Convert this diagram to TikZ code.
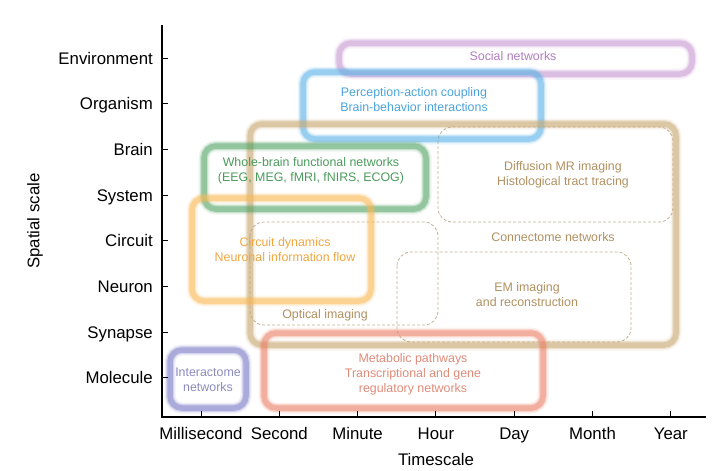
\documentclass[tikz,border=0pt]{standalone}
\usepackage{fontspec}
\setmainfont{Liberation Sans}
\usetikzlibrary{positioning}

\definecolor{socialc}{HTML}{C99AD2}
\definecolor{socialt}{HTML}{B07CC0}
\definecolor{percc}{HTML}{5EB2E6}
\definecolor{perct}{HTML}{4AA3DA}
\definecolor{connc}{HTML}{C8A872}
\definecolor{connt}{HTML}{B09060}
\definecolor{wholec}{HTML}{56A468}
\definecolor{wholet}{HTML}{4A9A5C}
\definecolor{circc}{HTML}{F8B955}
\definecolor{circt}{HTML}{F0A640}
\definecolor{interc}{HTML}{7C7CC6}
\definecolor{intert}{HTML}{8A8ABE}
\definecolor{metac}{HTML}{EA8068}
\definecolor{metat}{HTML}{E08A78}
\definecolor{dashc}{HTML}{C2B092}

% soft thick frame, drawn in several passes
\newcommand{\glowbox}[3]{%
	\foreach \w/\o in {11/0.12,8/0.25,5.5/0.45}{%
		\draw[draw=#1, line width=\w pt, opacity=\o, rounded corners=12pt] (#2) rectangle (#3);}}

\tikzset{
	axlab/.style={font=\fontsize{16.8}{18}\selectfont, inner sep=0pt},
	boxlab/.style={font=\fontsize{12.4}{15}\selectfont, align=center, inner sep=0pt},
	dashbox/.style={draw=dashc, line width=0.8pt, dash pattern=on 3pt off 2pt, rounded corners=14pt}
}

\begin{document}
\begin{tikzpicture}[x=1pt,y=-1pt]
		\useasboundingbox (0,0) rectangle (720,471);
		
		% Dashed method boxes
		\draw[dashbox] (438,127) rectangle (673,222);
		\draw[dashbox] (250,222) rectangle (438,325);
		\draw[dashbox] (397,252) rectangle (631,342);
		
		% Network boxes
		\glowbox{socialc}{339,43}{692,74}
		\glowbox{percc}{303,72}{541,139}
		\glowbox{connc}{250,124}{676,345}
		\glowbox{wholec}{204,146}{426,209}
		\glowbox{circc}{192,198}{371,301}
		\glowbox{interc}{170,350}{246,408}
		\glowbox{metac}{264,333}{543,408}
		
		% Box labels
		\node[boxlab, text=socialt] (social) at (513,56) {Social networks};
		\node[boxlab, text=perct] (perc) at (414,100) {Perception-action coupling\\Brain-behavior interactions};
		\node[boxlab, text=connt] (conn) at (553,237) {Connectome networks};
		\node[boxlab, text=connt] (diff) at (563,175) {Diffusion MR imaging\\Histological tract tracing};
		\node[boxlab, text=connt] (em) at (527,295) {EM imaging\\and reconstruction};
		\node[boxlab, text=connt] (optic) at (325,315) {Optical imaging};
		\node[boxlab, text=wholet] (whole) at (311,171) {Whole-brain functional networks\\(EEG, MEG, fMRI, fNIRS, ECOG)};
		\node[boxlab, text=circt] (circ) at (285,250) {Circuit dynamics\\Neuronal information flow};
		\node[boxlab, text=intert] (inter) at (208,380) {Interactome\\networks};
		\node[boxlab, text=metat] (meta) at (413,374) {Metabolic pathways\\Transcriptional and gene\\regulatory networks};
		
		% Axes
		\coordinate (top) at (162,25);
		\coordinate (origin) at (162,417);
		\coordinate (right) at (706,417);
		\draw[line width=1.3pt] (top) -- (origin) -- (right);
		
		% Ticks and tick labels
		\foreach \lab [count=\i from 0] in {Environment,Organism,Brain,System,Circuit,Neuron,Synapse,Molecule}{
			\draw[line width=1pt] (162,{58+45.7*\i}) -- ++(6,0);
			\node[axlab, anchor=base east] (y\i) at (153,{64+45.7*\i}) {\lab};
		}
		\foreach \lab [count=\i from 0] in {Millisecond,Second,Minute,Hour,Day,Month,Year}{
			\draw[line width=1pt] ({201+78.3*\i},417) -- ++(0,-6);
			\node[axlab, anchor=base] (x\i) at ({201+78.3*\i},439) {\lab};
		}
		
		% Axis titles
		\node[axlab, anchor=base] (tscale) at (436,465) {Timescale};
		\node[axlab, rotate=90] (sscale) at (35,221) {Spatial scale};
	\end{tikzpicture}
\end{document}
